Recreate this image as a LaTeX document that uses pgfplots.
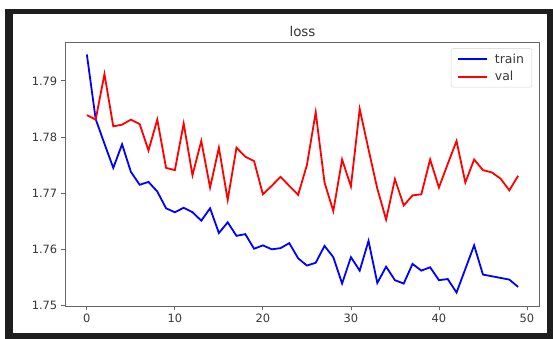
\documentclass[border=0pt]{standalone}
\usepackage{fontspec}
\setmainfont{DejaVu Sans}
\usepackage{pgfplots}
\pgfplotsset{compat=1.18}
\definecolor{framec}{RGB}{30,30,30}
\definecolor{txt}{RGB}{55,55,55}
\begin{document}
\begin{tikzpicture}
\path[use as bounding box] (0bp,0bp) rectangle (553bp,339bp);
\fill[white] (0bp,0bp) rectangle (553bp,339bp);
\fill[framec] (5bp,0bp) rectangle (13bp,330bp);
\fill[framec] (5bp,325bp) rectangle (553bp,330bp);
\fill[framec] (547bp,0bp) rectangle (553bp,325bp);
\fill[framec] (5bp,0bp) rectangle (553bp,6bp);
\begin{axis}[
  at={(65.3bp,33bp)}, anchor=south west,
  width=474.4bp, height=263.3bp, scale only axis,
  xmin=-2.45, xmax=51.45, ymin=1.7499, ymax=1.7968,
  xtick={0,10,20,30,40,50},
  ytick={1.75,1.76,1.77,1.78,1.79},
  xtick pos=bottom, ytick pos=left,
  yticklabel style={/pgf/number format/fixed, /pgf/number format/precision=2, /pgf/number format/fixed zerofill},
  /pgf/number format/assume math mode=true,
  tick align=outside, major tick length=4.5bp,
  tick style={gray!80!black, line width=0.8bp},
  axis line style={gray!80!black, line width=0.8bp},
  ticklabel style={font=\fontsize{11.5}{13}\selectfont, text=txt},
  title={loss},
  title style={font=\fontsize{13.5}{15}\selectfont, text=txt, yshift=-3bp},
  every axis plot/.append style={line width=1.8bp, mark=none},
  legend style={at={(0.984,0.978)}, anchor=north east, draw=gray!35, rounded corners=2pt,
    font=\fontsize{12.5}{14}\selectfont, text=txt, row sep=2.5bp, column sep=5bp, inner xsep=6bp, inner ysep=3bp},
  legend cell align=left,
  legend image code/.code={\draw[#1] (0bp,0bp) -- (29bp,0bp);},
]
\addplot[color=blue] coordinates {
(0,1.7947) (1,1.7832) (2,1.7788) (3,1.7745) (4,1.7787) (5,1.7738) (6,1.7715) (7,1.7720) (8,1.7703) (9,1.7673)
(10,1.7666) (11,1.7674) (12,1.7666) (13,1.7651) (14,1.7673) (15,1.7629) (16,1.7648) (17,1.7624) (18,1.7627) (19,1.7601)
(20,1.7607) (21,1.7600) (22,1.7602) (23,1.7611) (24,1.7584) (25,1.7571) (26,1.7576) (27,1.7606) (28,1.7586) (29,1.7539)
(30,1.7586) (31,1.7562) (32,1.7615) (33,1.7540) (34,1.7569) (35,1.7545) (36,1.7539) (37,1.7574) (38,1.7562) (39,1.7568)
(40,1.7545) (41,1.7547) (42,1.7523) (43,1.7565) (44,1.7607) (45,1.7555) (46,1.7552) (47,1.7549) (48,1.7546) (49,1.7533)
};
\addlegendentry{train}
\addplot[color=red] coordinates {
(0,1.7839) (1,1.7831) (2,1.7912) (3,1.7819) (4,1.7822) (5,1.7831) (6,1.7823) (7,1.7776) (8,1.7831) (9,1.7745)
(10,1.7741) (11,1.7824) (12,1.7732) (13,1.7793) (14,1.7710) (15,1.7781) (16,1.7688) (17,1.7781) (18,1.7765) (19,1.7757)
(20,1.7698) (21,1.7713) (22,1.7729) (23,1.7713) (24,1.7697) (25,1.7750) (26,1.7844) (27,1.7719) (28,1.7668) (29,1.7760)
(30,1.7712) (31,1.7850) (32,1.7778) (33,1.7708) (34,1.7653) (35,1.7725) (36,1.7678) (37,1.7696) (38,1.7698) (39,1.7760)
(40,1.7710) (41,1.7752) (42,1.7793) (43,1.7719) (44,1.7760) (45,1.7741) (46,1.7737) (47,1.7726) (48,1.7705) (49,1.7731)
};
\addlegendentry{val}
\end{axis}
\end{tikzpicture}
\end{document}
